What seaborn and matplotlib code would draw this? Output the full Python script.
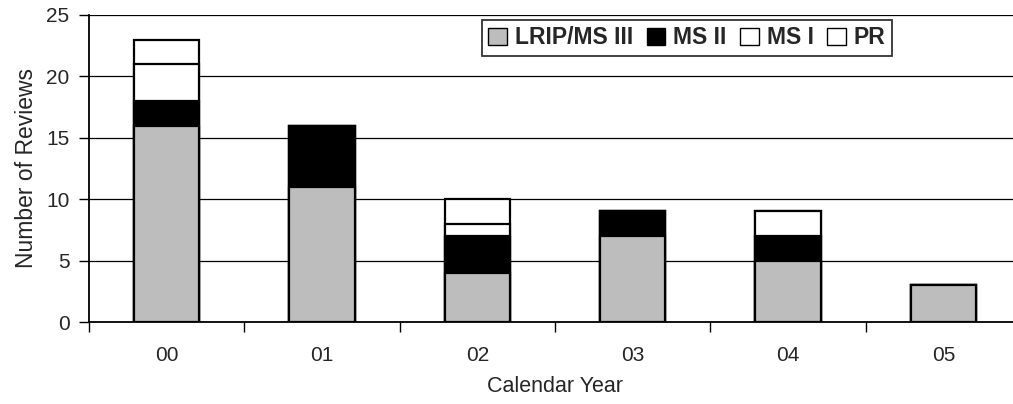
import matplotlib
matplotlib.use("Agg")
import matplotlib.pyplot as plt
import numpy as np
import pandas as pd
import seaborn as sns
from matplotlib.patches import Patch
from matplotlib.ticker import FixedLocator

years = ["00", "01", "02", "03", "04", "05"]
lrip_ms3 = [16, 11, 4, 7, 5, 3]
ms2 = [2, 5, 3, 2, 2, 0]
ms1 = [3, 0, 1, 0, 2, 0]
pr = [2, 0, 2, 0, 0, 0]

series = ["LRIP/MS III", "MS II", "MS I", "PR"]
colors = ["#bdbdbd", "black", "white", "white"]

sns.set_style("white")
plt.rcParams["font.family"] = ["Liberation Sans", "DejaVu Sans"]

df = pd.DataFrame({"year": years, "LRIP/MS III": lrip_ms3, "MS II": ms2,
                   "MS I": ms1, "PR": pr})
cum = df[series].cumsum(axis=1)

fig = plt.figure(figsize=(10.13, 4.04), dpi=100)
ax = fig.add_axes([89 / 1013, 82 / 404, 932 / 1013, 307 / 404])

# draw tallest stack first, then cover with lower layers
for name, col in reversed(list(zip(series, colors))):
    sns.barplot(x=df["year"], y=cum[name], color=col, width=0.42,
                edgecolor="black", linewidth=1.6, saturation=1, ax=ax)

ax.set_ylim(0, 25)
ax.set_xlim(-0.5, 5.5)
ax.set_yticks([0, 5, 10, 15, 20, 25])
ax.yaxis.grid(True, color="black", linewidth=0.9)
ax.set_axisbelow(True)
for s in ["top", "right"]:
    ax.spines[s].set_visible(False)
for s in ["left", "bottom"]:
    ax.spines[s].set_color("black")
    ax.spines[s].set_linewidth(1.3)

ax.tick_params(axis="y", which="major", direction="out", length=7, width=1,
               color="black", labelsize=15, pad=7, left=True)
ax.tick_params(axis="x", which="major", length=0, labelsize=15, pad=17)
ax.xaxis.set_minor_locator(FixedLocator(np.arange(-0.5, 6.0, 1.0)))
ax.tick_params(axis="x", which="minor", direction="out", length=7, width=1,
               color="black", bottom=True)

ax.set_xlabel("Calendar Year", fontsize=15.5, labelpad=8)
ax.set_ylabel("Number of Reviews", fontsize=16.5, labelpad=6)

handles = [Patch(facecolor=c, edgecolor="black", linewidth=1) for c in colors]
leg = ax.legend(handles, series, ncol=4, loc="center",
                bbox_to_anchor=(687 / 1013, 1 - 38 / 404),
                bbox_transform=fig.transFigure,
                prop={"weight": "bold", "size": 16.5},
                frameon=True, fancybox=False, handlelength=0.8,
                handleheight=0.8, handletextpad=0.35, columnspacing=0.6,
                borderpad=0.3)
leg.get_frame().set_edgecolor("black")
leg.get_frame().set_linewidth(1.3)

fig.savefig("out.png", dpi=100)
